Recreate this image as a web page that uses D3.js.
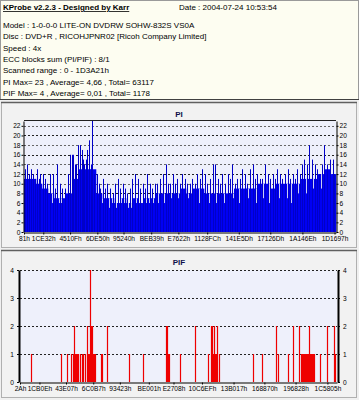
<!DOCTYPE html>
<html><head><meta charset="utf-8">
<script src="https://cdn.jsdelivr.net/npm/d3@7"></script>
<style>
body{margin:0;background:#f0f0f0}
svg{display:block;font-family:"Liberation Sans",Arial,sans-serif}
</style>
</head><body>
<svg id="c" width="359" height="400"></svg>
<script>
// ---------- data ----------
const headerTitle = "KProbe v2.2.3 - Designed by Karr";
const headerDate = "Date : 2004-07-24 10:53:54";
const headerLines = [
  "Model : 1-0-0-0 LITE-ON DVDRW SOHW-832S VS0A",
  "Disc : DVD+R , RICOHJPNR02 [Ricoh Company Limited]",
  "Speed : 4x",
  "ECC blocks sum (PI/PIF) : 8/1",
  "Scanned range : 0 - 1D3A21h",
  "PI Max= 23 , Average= 4,66 , Total= 63117",
  "PIF Max= 4 , Average= 0,01 , Total= 1178"
];
const scanEndK = 0x1D3A21 / 1000;   // kLBA
const piTitle = "PI";
const pifTitle = "PIF";
const piYTicks = [0,2,4,6,8,10,12,14,16,18,20,22];
const pifYTicks = [0,1,2,3,4];
const piXLabels = ["81h","1CE32h","4510Fh","6DE50h","95240h","BEB39h","E7622h","1128FCh","141E5Dh","17126Dh","1A146Eh","1D1697h"];
const pifXLabels = ["2Ah","1CB0Eh","43E07h","6C0B7h","93423h","BE001h","E2708h","10C6EFh","13B017h","168870h","196828h","1C5805h"];

// PI typical level per equal segment along the scan
const piLevels = [11,11,10,9,8,7,7,8,11,13,13,13,8,7,7,6,7,6,7,6,7,7,8,8,8,8,
                  9,8,9,9,8,8,8,8,8,9,9,9,9,10,10,9,10,10,10,10,11,11,11,12,13,12];
// PI spikes [kLBA, value]
const piSpikes = [[6,13],[18,14],[31,12],[43,13],[55,12],[68,11],[80,13],[92,11],[98,12],[117,12],
  [129,11],[141,10],[160,12],[178,12],[190,9],[203,14],[221,10],[233,9],[252,9],[270,12],
  [282,16],[295,16],[301,16],[313,14],[319,14],[332,18],[344,18],[356,17],[362,15],[368,14],
  [381,15],[387,17],[399,19],[411,14],[418,23],[430,12],[448,12],[461,10],[467,9],[485,11],
  [497,9],[510,10],[528,9],[546,8],[559,10],[577,11],[589,9],[608,10],[620,9],[632,8],
  [651,9],[663,11],[682,12],[700,11],[712,9],[731,10],[743,9],[755,12],[774,10],[786,9],
  [804,10],[817,10],[835,11],[853,12],[872,14],[884,10],[896,10],[915,12],[927,10],[939,11],
  [958,10],[970,12],[989,11],[1001,10],[1019,10],[1032,11],[1050,10],[1062,12],[1081,11],[1093,13],
  [1111,12],[1124,10],[1142,11],[1160,14],[1173,14],[1191,11],[1203,10],[1216,12],[1234,10],[1253,12],
  [1265,11],[1277,14],[1296,10],[1308,11],[1326,11],[1339,13],[1357,12],[1369,10],[1388,13],[1406,14],
  [1418,11],[1431,12],[1449,11],[1461,11],[1480,14],[1498,12],[1510,11],[1529,12],[1541,11],[1553,13],
  [1572,12],[1584,11],[1603,12],[1621,13],[1633,11],[1652,12],[1664,11],[1676,13],[1695,12],[1707,14],
  [1719,15],[1738,14],[1750,18],[1768,15],[1787,14],[1799,13],[1811,12],[1830,14],[1842,18],[1860,14],
  [1879,15],[1897,15],[1903,12]];
// PI dips below the typical level [kLBA, value]
const piDips = [[172,6],[215,6],[227,6],[479,6],[522,5],[540,6],[565,5],[596,6],[614,6],[638,5],
  [657,5],[688,6],[718,6],[749,6],[767,6],[792,6],[823,6],[860,6],[903,7],[946,7],[1007,7],
  [1074,6],[1136,6],[1179,6],[1228,6],[1283,7],[1320,6],[1375,7],[1424,6],[1467,7],[1504,6],
  [1566,7],[1615,7],[1639,6],[1682,8],[1731,8],[1774,9],[1824,9]];
// PIF bars [kLBA, value]
const pifBars = [[66,1],[248,1],[284,1],[308,1],[320,1],[326,2],[332,1],[338,1],[344,1],[350,1],
  [363,1],[375,1],[381,1],[393,1],[405,2],[411,1],[417,1],[423,4],[429,2],[435,2],[441,1],[447,1],
  [453,1],[489,1],[495,1],[526,2],[659,1],[743,1],[882,2],[888,2],[894,1],[900,1],[967,1],
  [1057,2],[1136,1],[1154,2],[1160,2],[1166,1],[1172,2],[1178,1],[1184,1],[1190,2],[1202,1],
  [1408,1],[1462,1],[1547,2],[1559,1],[1619,1],[1649,2],[1686,2],[1698,1],[1704,1],[1710,1],
  [1716,1],[1722,1],[1728,1],[1734,1],[1740,1],[1746,2],[1752,1],[1758,1],[1764,1],[1770,1],
  [1776,1],[1813,1],[1855,2],[1897,2],[1903,1]];

// ---------- drawing ----------
const svg = d3.select("#c");
const plotBg = "#eef0fb";

// frames
svg.append("rect").attr("x",0).attr("y",0).attr("width",359).attr("height",400).attr("fill","#f0f0f0");
svg.append("rect").attr("x",0.5).attr("y",0.5).attr("width",358).attr("height",99)
  .attr("fill","#fdfdf1").attr("stroke","#9a9a9a");
svg.append("line").attr("x1",0).attr("x2",359).attr("y1",99.5).attr("y2",99.5).attr("stroke","#404040");

// header text
const ht = svg.append("g").attr("font-size",8).attr("fill","#000");
ht.append("text").attr("x",3).attr("y",10).attr("font-weight","bold")
  .attr("text-decoration","underline").text(headerTitle);
ht.append("text").attr("x",179).attr("y",10).text(headerDate);
ht.selectAll("text.l").data(headerLines).join("text").attr("class","l")
  .attr("x",3).attr("y",(d,i)=>28 + i*11.35).text(d=>d);

// panels
function panel(y0, h, title, ty){
  svg.append("rect").attr("x",1.5).attr("y",y0+0.5).attr("width",355).attr("height",h)
    .attr("fill","#f2f2f2").attr("stroke","#b0b0b0");
  svg.append("line").attr("x1",1).attr("x2",357).attr("y1",y0+0.5).attr("y2",y0+0.5)
    .attr("stroke","#606060").attr("stroke-width",1.5);
  svg.append("text").attr("x",179).attr("y",ty).attr("text-anchor","middle")
    .attr("font-size",8).attr("font-weight","bold").attr("fill","#10104a").text(title);
}
panel(102, 145, piTitle, 117);
panel(250, 147, pifTitle, 265);

function styleAxis(g){
  g.attr("font-size",6.6).attr("font-family","Liberation Sans, Arial, sans-serif");
  g.selectAll("path.domain").attr("stroke","#000");
  g.selectAll(".tick line").attr("stroke","#000");
  g.selectAll(".tick text").attr("fill","#000");
}
const fmtInt = d3.format("d");

// ---------- PI chart ----------
const xPI = d3.scaleLinear().domain([0, scanEndK]).range([24, 336]);
const yPI = d3.scaleLinear().domain([0, 23]).range([232, 121]);
const gPI = svg.append("g");
gPI.append("rect").attr("x",xPI(0)).attr("y",yPI(23)).attr("width",xPI(scanEndK)-xPI(0))
  .attr("height",yPI(0)-yPI(23)).attr("fill",plotBg);
gPI.selectAll("line.g").data(piYTicks.filter(d=>d>0)).join("line").attr("class","g")
  .attr("x1",xPI(0)).attr("x2",xPI(scanEndK)).attr("y1",d=>Math.round(yPI(d))+0.5).attr("y2",d=>Math.round(yPI(d))+0.5)
  .attr("stroke",(d,i)=>i%2? "#222":"#666").attr("stroke-dasharray","2,2");
const seg = scanEndK / piLevels.length;
gPI.selectAll("rect.lv").data(piLevels).join("rect").attr("class","lv")
  .attr("x",(d,i)=>xPI(i*seg)).attr("width",(d,i)=>xPI((i+1)*seg)-xPI(i*seg)+0.3)
  .attr("y",d=>yPI(d)).attr("height",d=>yPI(0)-yPI(d)).attr("fill","#0000f4");
const levelAt = k => piLevels[Math.min(piLevels.length-1, Math.floor(k/seg))];
gPI.selectAll("line.dp").data(piDips).join("line").attr("class","dp")
  .attr("x1",d=>Math.round(xPI(d[0]))+0.5).attr("x2",d=>Math.round(xPI(d[0]))+0.5)
  .attr("y1",d=>yPI(d[1])).attr("y2",d=>yPI(Math.max(d[1],levelAt(d[0]))))
  .attr("stroke","#c8ccf4").attr("stroke-width",1);
gPI.selectAll("line.sp").data(piSpikes).join("line").attr("class","sp")
  .attr("x1",d=>Math.round(xPI(d[0]))+0.5).attr("x2",d=>Math.round(xPI(d[0]))+0.5)
  .attr("y1",yPI(0)).attr("y2",d=>yPI(d[1]))
  .attr("stroke","#0000c8").attr("stroke-width",1);
gPI.append("line").attr("x1",xPI(0)).attr("x2",xPI(scanEndK)).attr("y1",120.5).attr("y2",120.5).attr("stroke","#202020");
svg.append("g").attr("transform",`translate(${xPI(0)-0.5},0)`)
  .call(d3.axisLeft(yPI).tickValues(piYTicks).tickFormat(fmtInt).tickSize(2).tickSizeOuter(0).tickPadding(1)).call(styleAxis);
svg.append("g").attr("transform",`translate(${xPI(scanEndK)+0.5},0)`)
  .call(d3.axisRight(yPI).tickValues(piYTicks).tickFormat(fmtInt).tickSize(2).tickSizeOuter(0).tickPadding(1)).call(styleAxis);
svg.append("g").attr("transform",`translate(0,${yPI(0)+0.5})`)
  .call(d3.axisBottom(xPI).tickValues(piXLabels.map(s=>parseInt(s,16)/1000))
    .tickFormat((d,i)=>piXLabels[i]).tickSize(2).tickSizeOuter(0).tickPadding(2)).call(styleAxis);

// ---------- PIF chart ----------
const xPIF = d3.scaleLinear().domain([0, scanEndK]).range([20, 337]);
const yPIF = d3.scaleLinear().domain([0, 4]).range([382, 270]);
const gF = svg.append("g");
gF.append("rect").attr("x",xPIF(0)).attr("y",yPIF(4)).attr("width",xPIF(scanEndK)-xPIF(0))
  .attr("height",yPIF(0)-yPIF(4)).attr("fill",plotBg);
gF.selectAll("line.g").data(pifYTicks.filter(d=>d>0)).join("line").attr("class","g")
  .attr("x1",xPIF(0)).attr("x2",xPIF(scanEndK)).attr("y1",d=>Math.round(yPIF(d))+0.5).attr("y2",d=>Math.round(yPIF(d))+0.5)
  .attr("stroke","#222").attr("stroke-dasharray","2,2");
gF.selectAll("line.b").data(pifBars).join("line").attr("class","b")
  .attr("x1",d=>Math.round(xPIF(d[0]))+0.5).attr("x2",d=>Math.round(xPIF(d[0]))+0.5)
  .attr("y1",yPIF(0)).attr("y2",d=>yPIF(d[1]))
  .attr("stroke","#ee0000").attr("stroke-width",1.2);
svg.append("g").attr("transform",`translate(${xPIF(0)-1},0)`)
  .call(d3.axisLeft(yPIF).tickValues(pifYTicks).tickFormat(fmtInt).tickSize(2).tickSizeOuter(0).tickPadding(3)).call(styleAxis)
  .call(g=>g.select("path.domain").attr("stroke-width",2));
svg.append("g").attr("transform",`translate(${xPIF(scanEndK)+1},0)`)
  .call(d3.axisRight(yPIF).tickValues(pifYTicks).tickFormat(fmtInt).tickSize(2).tickSizeOuter(0).tickPadding(3)).call(styleAxis)
  .call(g=>g.select("path.domain").attr("stroke-width",2));
svg.append("g").attr("transform",`translate(0,${yPIF(0)+0.5})`)
  .call(d3.axisBottom(xPIF).tickValues(pifXLabels.map(s=>parseInt(s,16)/1000))
    .tickFormat((d,i)=>pifXLabels[i]).tickSize(2).tickSizeOuter(0).tickPadding(2)).call(styleAxis);
</script>
</body></html>
